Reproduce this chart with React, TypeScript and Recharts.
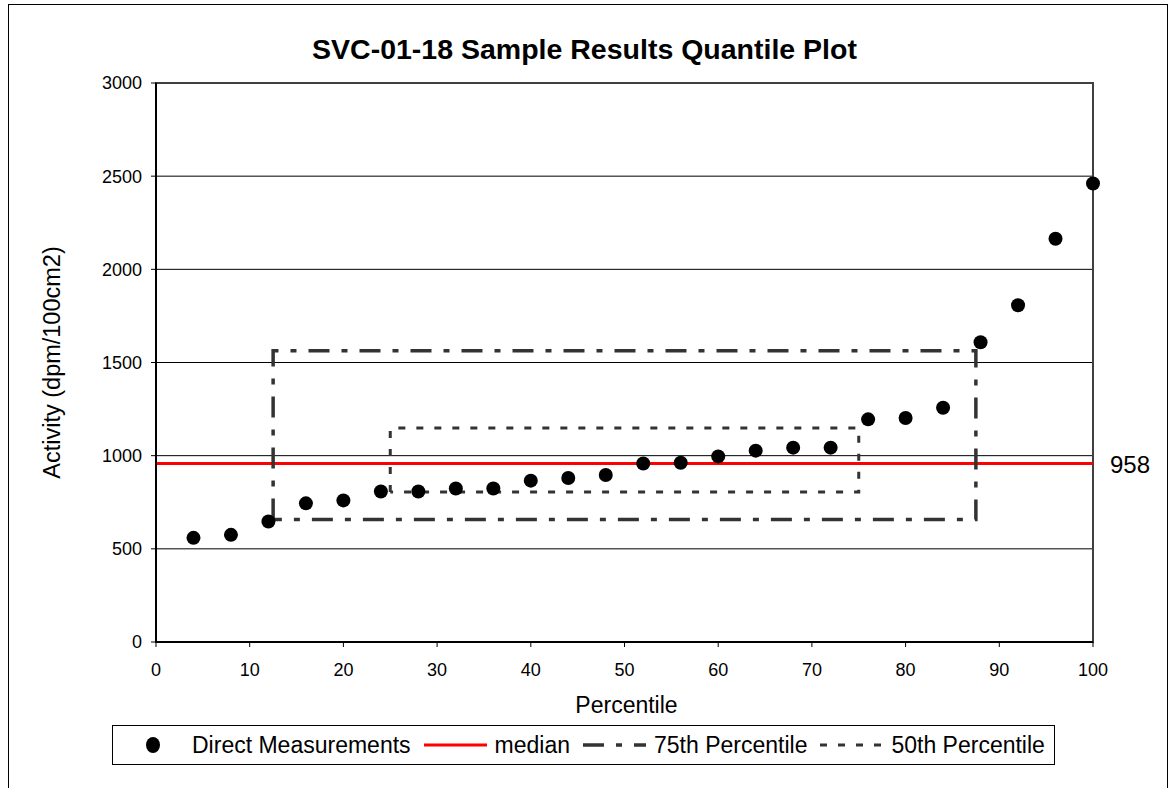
import { ComposedChart, Scatter, Line, XAxis, YAxis, CartesianGrid, ReferenceLine, ReferenceArea } from "recharts"

// quantile plot values
const percentiles = [4, 8, 12, 16, 20, 24, 28, 32, 36, 40, 44, 48, 52, 56, 60, 64, 68, 72, 76, 80, 84, 88, 92, 96, 100]
const activity = [559, 575, 647, 744, 760, 808, 808, 824, 824, 866, 880, 896, 958, 962, 996, 1027, 1043, 1043, 1195, 1202, 1257, 1609, 1807, 2164, 2461]

const medianValue = 958

// boxes: [from, to] on each axis
const box75X = [12.5, 87.5]
const box75Y = [658, 1563]
const box50X = [25, 75]
const box50Y = [805, 1148]

const xTicks = [0, 10, 20, 30, 40, 50, 60, 70, 80, 90, 100]
const yTicks = [0, 500, 1000, 1500, 2000, 2500, 3000]

const FONT = '"Liberation Sans", Arial, sans-serif'
const DASH_75 = "21 12 6 12"
const DASH_50 = "7 11"

const points = percentiles.map((p, i) => ({ p, v: activity[i] }))

// closed rectangle path through the box corners
const boxPath = (xs: number[], ys: number[]) => [
  { p: xs[0], v: ys[0] },
  { p: xs[0], v: ys[1] },
  { p: xs[1], v: ys[1] },
  { p: xs[1], v: ys[0] },
  { p: xs[0], v: ys[0] },
]

const legendItems = [
  { name: "Direct Measurements", kind: "dot" },
  { name: "median", kind: "line", color: "#ff0000", dash: undefined, width: 3 },
  { name: "75th Percentile", kind: "line", color: "#333333", dash: DASH_75, width: 3.5 },
  { name: "50th Percentile", kind: "line", color: "#333333", dash: DASH_50, width: 3 },
]

function Dot(props: any) {
  if (props.cx == null || props.cy == null) return null
  return <circle cx={props.cx} cy={props.cy} r={7} fill="#000" />
}

function YTitle(props: any) {
  const vb = props.viewBox
  const cx = vb.x + 44
  const cy = vb.y + vb.height / 2
  return (
    <text
      x={cx}
      y={cy}
      transform={`rotate(-90, ${cx}, ${cy})`}
      textAnchor="middle"
      dominantBaseline="central"
      fontSize={23.5}
      fontFamily={FONT}
      fill="#000"
    >
      Activity (dpm/100cm2)
    </text>
  )
}

function XTitle(props: any) {
  const vb = props.viewBox
  return (
    <text x={vb.x + vb.width / 2 + 2} y={vb.y + 71} textAnchor="middle" fontSize={23} fontFamily={FONT} fill="#000">
      Percentile
    </text>
  )
}

function MedianLabel(props: any) {
  const vb = props.viewBox
  return (
    <text x={vb.x + vb.width + 17} y={vb.y + 1} dominantBaseline="central" fontSize={24} fontFamily={FONT} fill="#000">
      {medianValue}
    </text>
  )
}

function Legend() {
  return (
    <div
      style={{
        position: "absolute",
        left: 112,
        top: 725,
        width: 908,
        height: 38,
        border: "1px solid #000",
        display: "flex",
        alignItems: "center",
        paddingLeft: 33,
        boxSizing: "content-box",
        fontFamily: FONT,
        fontSize: 23,
        whiteSpace: "nowrap",
      }}
    >
      {legendItems.map((item, i) => (
        <div key={item.name} style={{ display: "flex", alignItems: "center", marginLeft: i === 0 ? 0 : 13 }}>
          {item.kind === "dot" ? (
            <svg width={14} height={16}>
              <ellipse cx={7} cy={8} rx={7} ry={8} fill="#000" />
            </svg>
          ) : (
            <svg width={63} height={8}>
              <line x1={0} y1={4} x2={63} y2={4} stroke={item.color} strokeWidth={item.width} strokeDasharray={item.dash} />
            </svg>
          )}
          <span style={{ marginLeft: item.kind === "dot" ? 32 : 8 }}>{item.name}</span>
        </div>
      ))}
    </div>
  )
}

export default function App() {
  return (
    <div style={{ position: "absolute", left: 0, top: 0, width: 1169, height: 788, overflow: "hidden", background: "#fff" }}>
      <div
        style={{
          position: "absolute",
          left: 8,
          top: 4,
          width: 1158,
          height: 820,
          border: "1px solid #000",
        }}
      />
      <div
        style={{
          position: "absolute",
          left: 0,
          top: 33,
          width: 1169,
          textAlign: "center",
          fontFamily: FONT,
          fontWeight: "bold",
          fontSize: 28.5,
          lineHeight: "32px",
        }}
      >
        SVC-01-18 Sample Results Quantile Plot
      </div>
      <div style={{ position: "absolute", left: 0, top: 0 }}>
        <ComposedChart width={1169} height={788} margin={{ top: 83, right: 76, bottom: 66, left: 8 }}>
          <CartesianGrid vertical={false} stroke="#000" strokeWidth={1} />
          <ReferenceArea x1={0} x2={100} y1={0} y2={3000} fill="none" stroke="#404040" strokeWidth={2} />
          <XAxis
            type="number"
            dataKey="p"
            domain={[0, 100]}
            ticks={xTicks}
            height={80}
            tickSize={5}
            tickMargin={16}
            axisLine={{ stroke: "#000", strokeWidth: 2 }}
            tickLine={{ stroke: "#000" }}
            tick={{ fontSize: 18, fontFamily: FONT, fill: "#000" }}
            label={{ content: XTitle }}
          />
          <YAxis
            type="number"
            dataKey="v"
            domain={[0, 3000]}
            ticks={yTicks}
            width={148}
            tickSize={5}
            tickMargin={9}
            axisLine={{ stroke: "#000", strokeWidth: 2 }}
            tickLine={{ stroke: "#000" }}
            tick={{ fontSize: 18, fontFamily: FONT, fill: "#000" }}
            label={{ content: YTitle }}
          />
          <ReferenceLine y={medianValue} stroke="#ff0000" strokeWidth={3} label={{ content: MedianLabel }} />
          <Line
            data={boxPath(box75X, box75Y)}
            dataKey="v"
            name="75th Percentile"
            type="linear"
            stroke="#333333"
            strokeWidth={3.5}
            strokeDasharray={DASH_75}
            dot={false}
            activeDot={false}
            isAnimationActive={false}
          />
          <Line
            data={boxPath(box50X, box50Y)}
            dataKey="v"
            name="50th Percentile"
            type="linear"
            stroke="#333333"
            strokeWidth={3}
            strokeDasharray={DASH_50}
            dot={false}
            activeDot={false}
            isAnimationActive={false}
          />
          <Scatter data={points} dataKey="v" name="Direct Measurements" shape={Dot} isAnimationActive={false} />
        </ComposedChart>
      </div>
      <Legend />
    </div>
  )
}
